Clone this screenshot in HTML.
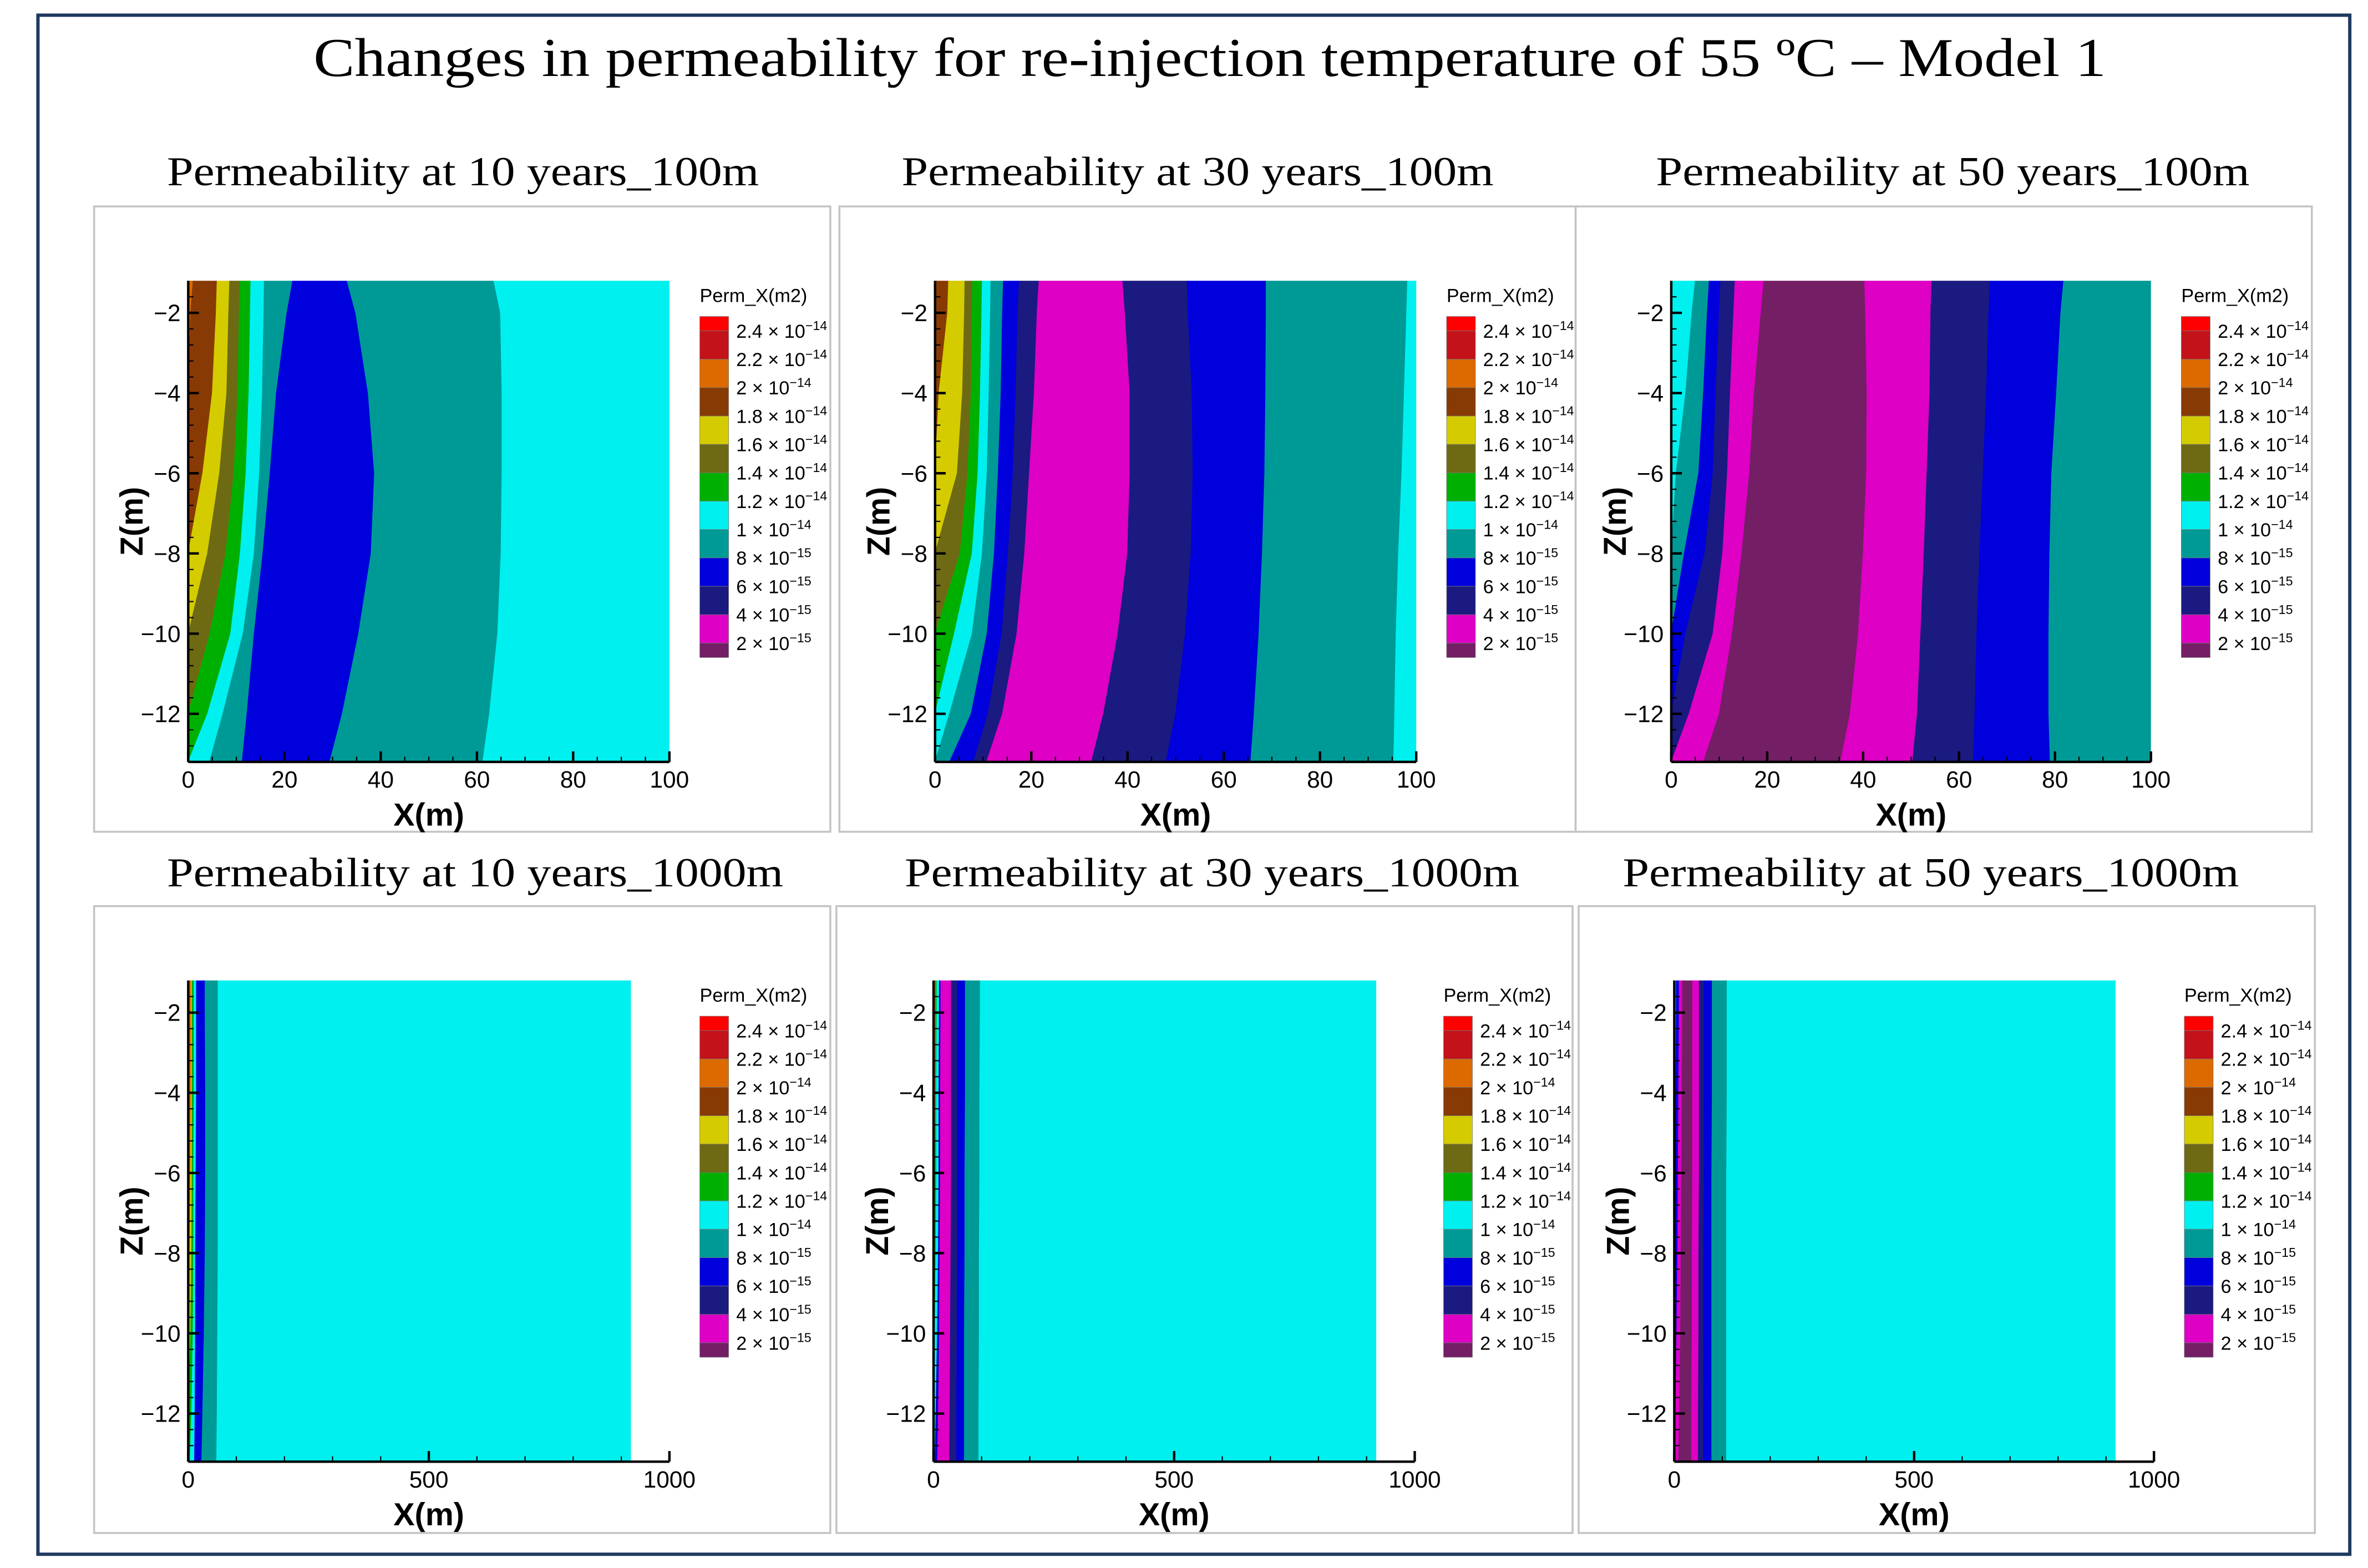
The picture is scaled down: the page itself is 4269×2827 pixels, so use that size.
<!DOCTYPE html>
<html><head><meta charset="utf-8">
<style>
html,body{margin:0;padding:0;background:#fff;}
svg{display:block;}
</style></head>
<body>
<svg id="fig" xmlns="http://www.w3.org/2000/svg" width="4269" height="2827" viewBox="0 0 1560 1033.06" preserveAspectRatio="none">
<rect x="0" y="0" width="1560" height="1034" fill="#fff"/>
<rect x="25" y="10" width="1523" height="1014" fill="none" stroke="#1f3a60" stroke-width="2.2"/>
<text x="797" y="50" text-anchor="middle" font-family="Liberation Serif, serif" font-size="36" textLength="1181" lengthAdjust="spacingAndGlyphs">Changes in permeability for re-injection temperature of 55 ºC – Model 1</text>
<g id="panels"></g>
</svg>
<script>
// ---- data ----
const zLevels = [-1.2, -2, -4, -6, -8, -10, -12, -13.2];
const yTicks = [-2, -4, -6, -8, -10, -12];
const xTicks100 = [0, 20, 40, 60, 80, 100];
const xTicks1000 = [0, 500, 1000];
const legendLabels = ["2.4 × 10|−14","2.2 × 10|−14","2 × 10|−14","1.8 × 10|−14","1.6 × 10|−14","1.4 × 10|−14","1.2 × 10|−14","1 × 10|−14","8 × 10|−15","6 × 10|−15","4 × 10|−15","2 × 10|−15"];
const legendColors = ["#ff0000","#c3121a","#dc6a00","#883a04","#d4cc00","#6e6a14","#00b000","#00f0f0","#009a96","#0000dc","#1a1a80","#de00c4","#741e66"];
const C = {orange:"#dc6a00",brown:"#883a04",yellow:"#d4cc00",olive:"#6e6a14",green:"#00b000",cyan:"#00f0f0",teal:"#009a96",blue:"#0000dc",navy:"#1a1a80",magenta:"#de00c4",purple:"#741e66"};

const p1Colors = ["orange","brown","yellow","olive","green","cyan","teal","blue","teal","cyan"];
const p1Bounds = [
 [1,0.5,0,0,0,0,0,0],
 [6,5.8,5,3,0,0,0,0],
 [8.6,8.4,8,6.5,4,0,0,0],
 [10.8,10.6,10.3,9.5,7.8,4.5,0,0],
 [13,12.9,12.6,12,10.8,8.8,4,0],
 [15.8,15.7,15.4,14.8,13.7,11.4,7.2,4.4],
 [21.7,20.5,18.3,17,15.5,13.7,12.2,11.2],
 [33,34.8,37.4,38.7,38,35.4,32,29.4],
 [63.5,64.9,65.2,65.2,65,64.3,62.6,61.2]
];
const p2Colors = ["brown","yellow","olive","green","cyan","teal","blue","navy","magenta","navy","blue","teal","cyan"];
const p2Bounds = [
 [2.8,2.6,0.8,0,0,0,0,0],
 [6.2,6.1,5.7,4.6,0,0,0,0],
 [7.8,7.7,7.5,6.8,5.2,0,0,0],
 [9.8,9.7,9.4,8.9,7.7,4,0,0],
 [11.6,11.5,11.2,10.8,9.8,7.7,3,0],
 [14.2,14,13.7,13.1,12.3,10.8,7.5,3],
 [17.5,17.2,16.8,16.2,15.2,13.9,11,8],
 [21.6,21.2,20.6,19.6,18.6,17,14,10.7],
 [39,39.5,40.5,40.5,40,38,35,32.5],
 [52.4,52.6,53.4,53.6,53.2,52,50,48],
 [68.8,68.8,68.7,68.5,68,67.3,66.3,65.6],
 [98.2,98,97.5,97,96.3,95.8,95.5,95.3]
];
const p3Colors = ["cyan","teal","blue","navy","magenta","purple","magenta","navy","blue","teal"];
const p3Bounds = [
 [5,4.3,3,1,0,0,0,0],
 [7.9,7.5,6.7,5.7,2.7,0,0,0],
 [10.3,10,9.3,8.7,7,3,0,0],
 [13.3,13,12.3,11.7,10.7,8.7,3.7,0],
 [19.3,18.7,17.3,16.3,14.7,12.7,10,6.7],
 [40.3,40.5,40.8,40.7,40,39,37.3,35.3],
 [54.3,54.1,53.9,53.3,52.7,52,51.3,50.3],
 [66.5,66.2,65.7,65,64.3,63.7,63.3,63],
 [81.8,81.2,80.3,79.3,78.9,78.7,78.7,79]
];
const p4Colors = ["orange","yellow","green","cyan","blue","teal","cyan"];
const p4Bounds = [
 [6,6,6,5,3,0,0,0],
 [8,8,8,8,7,5,0,0],
 [12,12,12,11,11,10,7,4],
 [17,17,17,16,15,15,14,13],
 [35,35,36,36,35,33,30,28],
 [62,62,62,62,62,61,60,59]
];
const p5Colors = ["orange","green","cyan","blue","magenta","navy","blue","teal","cyan"];
const p5Bounds = [
 [4,4,4,3,2,1,0,0],
 [7,7,6,6,5,3,0,0],
 [12,12,11,11,10,8,5,3],
 [15,15,14,14,13,12,10,8],
 [37,37,37,37,36,35,34,33],
 [50,50,50,50,50,49,48,48],
 [66,66,66,65,65,64,64,64],
 [97,97,96,96,95,95,94,94]
];
const p6Colors = ["cyan","blue","magenta","purple","magenta","navy","blue","teal","cyan"];
const p6Bounds = [
 [4,4,3,2,0,0,0,0],
 [10,10,9,8,7,5,3,2],
 [17,17,16,15,14,13,11,9],
 [38,38,38,38,37,37,36,36],
 [52,52,52,52,51,51,50,50],
 [62,62,62,62,61,61,61,61],
 [79,79,79,78,78,78,78,78],
 [110,110,110,109,109,109,109,109]
];
const panelTitles = ["Permeability  at 10 years_100m","Permeability  at 30 years_100m","Permeability  at 50 years_100m","Permeability  at 10 years_1000m","Permeability  at 30 years_1000m","Permeability  at 50 years_1000m"];

const NS = "http://www.w3.org/2000/svg";
const root = document.getElementById("panels");
function mk(tag, attrs, parent){const e=document.createElementNS(NS,tag);for(const k in attrs)e.setAttribute(k,attrs[k]);(parent||root).appendChild(e);return e;}

const panels = [
 {frame:[62,136,485,412], plot:[124,185,317,317], xmax:100, dataMax:100, ticks:xTicks100, minor:5, colors:p1Colors, bounds:p1Bounds, title:[110,500,122], leg:[461,195]},
 {frame:[553,136,485,412], plot:[616,185,317,317], xmax:100, dataMax:100, ticks:xTicks100, minor:5, colors:p2Colors, bounds:p2Bounds, title:[594,984,122], leg:[953,195]},
 {frame:[1038,136,485,412], plot:[1101,185,316,317], xmax:100, dataMax:100, ticks:xTicks100, minor:5, colors:p3Colors, bounds:p3Bounds, title:[1091,1482,122], leg:[1437,195]},
 {frame:[62,597,485,413], plot:[124,646,317,317], xmax:1000, dataMax:920, ticks:xTicks1000, minor:100, colors:p4Colors, bounds:p4Bounds, title:[110,516,584], leg:[461,656]},
 {frame:[551,597,485,413], plot:[615,646,317,317], xmax:1000, dataMax:920, ticks:xTicks1000, minor:100, colors:p5Colors, bounds:p5Bounds, title:[596,1001,584], leg:[951,656]},
 {frame:[1040,597,485,413], plot:[1103,646,316,317], xmax:1000, dataMax:920, ticks:xTicks1000, minor:100, colors:p6Colors, bounds:p6Bounds, title:[1069,1475,584], leg:[1439,656]}
];

panels.forEach((p, pi) => {
  const g = mk("g", {});
  
  
  const fr = mk("rect", {x:p.frame[0], y:p.frame[1], width:p.frame[2], height:p.frame[3], fill:"#fff", stroke:"#c4c4c4", "stroke-width":1.3}, g);
  
  
  const tt = mk("text", {x:(p.title[0]+p.title[1])/2, y:p.title[2], "text-anchor":"middle", "font-family":"Liberation Serif, serif", "font-size":27, textLength:p.title[1]-p.title[0], lengthAdjust:"spacingAndGlyphs"}, g);
  tt.textContent = panelTitles[pi];
  
  

  const [px, py, pw, ph] = p.plot;
  const zTop = zLevels[0], zBot = zLevels[zLevels.length-1];
  const sx = v => px + v / p.xmax * pw;
  const sy = z => py + (z - zTop) / (zBot - zTop) * ph;

  const cid = "clip" + pi;
  const defs = mk("defs", {}, g);
  const cp = mk("clipPath", {id:cid}, defs);
  mk("rect", {x:sx(0), y:py, width:sx(p.dataMax)-sx(0), height:ph}, cp);
  const bg = mk("g", {"clip-path":"url(#"+cid+")"}, g);
  
  

  const zeros = zLevels.map(() => 0);
  const maxArr = zLevels.map(() => p.dataMax * 1.2);
  p.colors.forEach((cn, i) => {
    const L = i === 0 ? zeros : p.bounds[i-1];
    const R = i < p.bounds.length ? p.bounds[i] : maxArr;
    const pts = [];
    zLevels.forEach((z, k) => pts.push(sx(R[k]).toFixed(2) + "," + sy(z).toFixed(2)));
    for (let k = zLevels.length-1; k >= 0; k--) pts.push(sx(L[k]).toFixed(2) + "," + sy(zLevels[k]).toFixed(2));
    const poly = mk("polygon", {points:pts.join(" "), fill:C[cn], stroke:C[cn], "stroke-width":0.4}, bg);
    
    
  });

  const ax = mk("g", {stroke:"#000", "stroke-width":1.6, fill:"none"}, g);
  
  
  mk("line", {x1:px, y1:py, x2:px, y2:py+ph}, ax);
  mk("line", {x1:px, y1:py+ph, x2:px+pw, y2:py+ph}, ax);
  for (let z = -1.6; z >= zBot; z -= 0.4) {
    const zz = Math.round(z*10)/10;
    const major = Math.abs(zz - Math.round(zz)) < 0.01 && Math.round(zz) % 2 === 0;
    mk("line", {x1:px, y1:sy(zz), x2:px + (major?7:3.5), y2:sy(zz), "stroke-width":major?1.6:0.8}, ax);
  }
  yTicks.forEach(t => {
    const tx = mk("text", {x:px-5, y:sy(t)+5.5, "text-anchor":"end", "font-family":"Liberation Sans, sans-serif", "font-size":15.5, fill:"#000", stroke:"none"}, g);
    tx.textContent = "−" + Math.abs(t);
    
    
  });
  for (let v = 0; v <= p.xmax + 0.001; v += p.minor) {
    const major = p.ticks.indexOf(Math.round(v)) >= 0;
    mk("line", {x1:sx(v), y1:py+ph, x2:sx(v), y2:py+ph-(major?7:3.5), "stroke-width":major?1.6:0.8}, ax);
  }
  p.ticks.forEach(t => {
    const tx = mk("text", {x:sx(t), y:py+ph+17, "text-anchor":"middle", "font-family":"Liberation Sans, sans-serif", "font-size":15.5, fill:"#000", stroke:"none"}, g);
    tx.textContent = String(t);
    
    
  });
  const xl = mk("text", {x:px+pw/2, y:py+ph+42, "text-anchor":"middle", "font-family":"Liberation Sans, sans-serif", "font-size":21, "font-weight":"bold"}, g);
  xl.textContent = "X(m)";
  
  
  const yx = px - 30, yy = py + ph*0.5;
  const yl = mk("text", {x:yx, y:yy, transform:"rotate(-90 "+yx+" "+yy+")", "text-anchor":"middle", "font-family":"Liberation Sans, sans-serif", "font-size":21, "font-weight":"bold"}, g);
  yl.textContent = "Z(m)";
  
  

  const lg = mk("g", {}, g);
  
  
  const [lx, ly] = p.leg;
  const lt = mk("text", {x:lx, y:ly+4, "font-family":"Liberation Sans, sans-serif", "font-size":12.5}, lg);
  lt.textContent = "Perm_X(m2)";
  
  
  const step = 18.7, first = ly + 23;
  legendColors.forEach((c, i) => {
    const y0 = i === 0 ? first - 9.5 : first + (i-1)*step;
    const h = (i === 0 || i === legendColors.length-1) ? 9.5 : step;
    const r = mk("rect", {x:lx, y:y0, width:19, height:h, fill:c, stroke:"#777", "stroke-width":0.3}, lg);
    
    
  });
  legendLabels.forEach((s, i) => {
    const parts = s.split("|");
    const t = mk("text", {x:lx+24, y:first + i*step + 4.5, "font-family":"Liberation Sans, sans-serif", "font-size":12.5}, lg);
    
    
    const a = document.createElementNS(NS, "tspan"); a.textContent = parts[0]; t.appendChild(a);
    const b = document.createElementNS(NS, "tspan"); b.setAttribute("dy", "-5"); b.setAttribute("font-size", "8.5"); b.textContent = parts[1]; t.appendChild(b);
  });
});
</script>
</body></html>
